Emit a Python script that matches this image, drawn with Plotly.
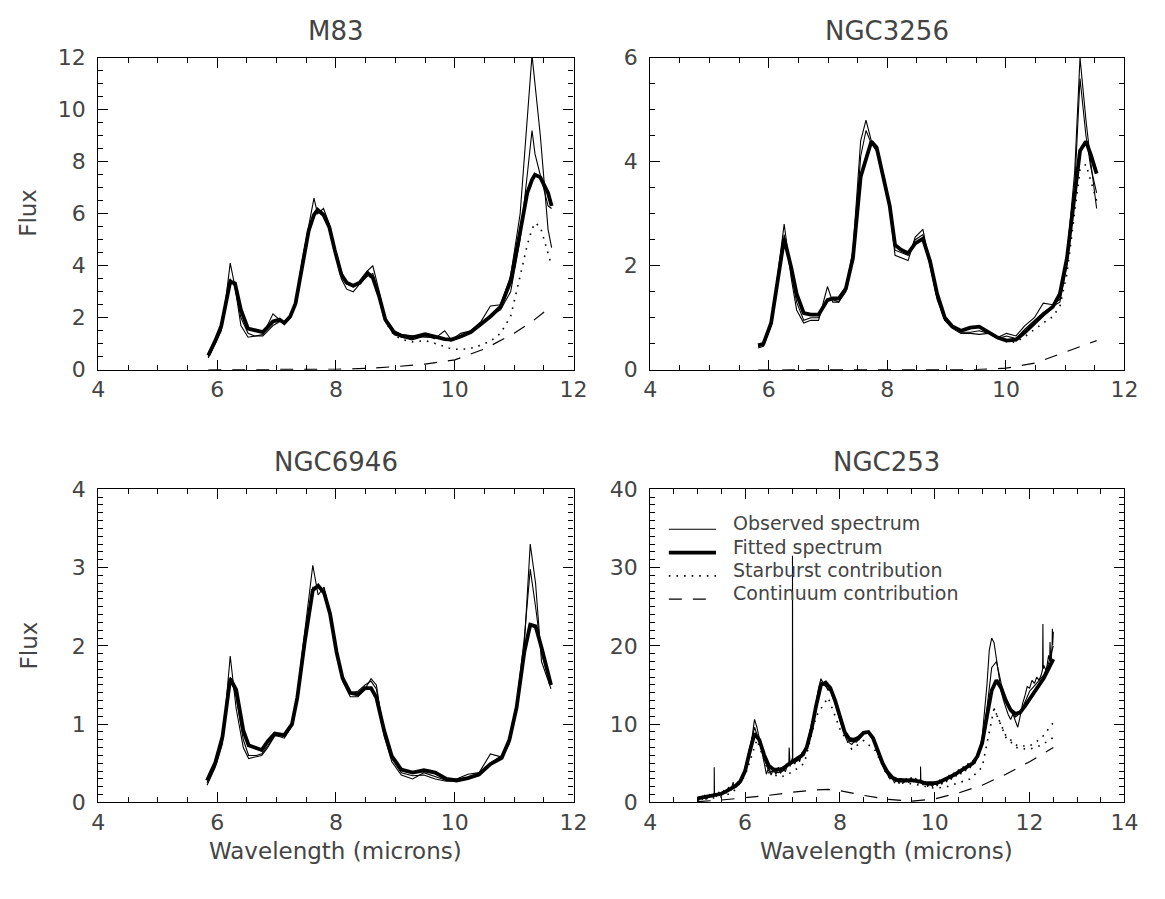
import numpy as np
import plotly.graph_objects as go

# ---------------- M83 ----------------
m83_lam = [5.85, 5.97, 6.07, 6.15, 6.22, 6.30, 6.40, 6.52, 6.63, 6.77,
           6.94, 7.05, 7.13, 7.23, 7.32, 7.43, 7.54, 7.63, 7.69, 7.79,
           7.89, 7.98, 8.09, 8.18, 8.29, 8.40, 8.53, 8.62, 8.73, 8.83,
           8.98, 9.11, 9.28, 9.50, 9.66, 9.83, 9.94, 10.10, 10.27, 10.44,
           10.60, 10.77, 10.94, 11.10, 11.22, 11.30, 11.35, 11.44, 11.57, 11.63]
m83_fit = [0.55, 1.12, 1.68, 2.6, 3.39, 3.32, 2.30, 1.58, 1.53, 1.45,
           1.86, 1.93, 1.80, 2.05, 2.55, 4.04, 5.34, 5.96, 6.15, 5.96,
           5.47, 4.60, 3.66, 3.35, 3.23, 3.35, 3.73, 3.54, 2.80, 1.93,
           1.43, 1.30, 1.24, 1.37, 1.28, 1.18, 1.16, 1.28, 1.45, 1.74,
           2.05, 2.42, 3.4, 5.3, 6.8, 7.3, 7.5, 7.4, 6.8, 6.3]
m83_obs1 = [0.45, 1.0, 1.5, 2.8, 4.1, 3.2, 1.7, 1.25, 1.3, 1.35,
            2.15, 1.9, 1.75, 2.1, 2.6, 4.2, 5.6, 6.6, 6.0, 6.2,
            5.6, 4.6, 3.5, 3.1, 3.0, 3.3, 3.8, 4.0, 3.0, 1.85,
            1.35, 1.25, 1.15, 1.3, 1.2, 1.5, 1.15, 1.4, 1.5, 1.85,
            2.45, 2.5, 3.6, 6.0, 9.5, 12.1, 11.0, 9.0, 5.4, 4.7]
m83_obs2 = [0.5, 1.05, 1.6, 2.5, 3.5, 3.2, 2.0, 1.4, 1.3, 1.3,
            1.7, 1.85, 1.85, 2.0, 2.5, 3.9, 5.2, 6.0, 6.1, 5.9,
            5.5, 4.7, 3.8, 3.3, 3.2, 3.3, 3.6, 3.7, 2.9, 2.0,
            1.5, 1.35, 1.3, 1.25, 1.25, 1.2, 1.1, 1.25, 1.45, 1.7,
            2.1, 2.3, 3.0, 5.0, 7.5, 9.2, 8.3, 7.5, 6.3, 6.2]
m83_star = [0.55, 1.12, 1.68, 2.6, 3.39, 3.32, 2.30, 1.58, 1.53, 1.45,
            1.86, 1.93, 1.80, 2.05, 2.55, 4.04, 5.34, 5.96, 6.15, 5.96,
            5.47, 4.58, 3.63, 3.32, 3.19, 3.30, 3.67, 3.47, 2.72, 1.84,
            1.32, 1.17, 1.07, 1.12, 1.02, 0.88, 0.80, 0.78, 0.82, 0.95,
            1.10, 1.40, 2.05, 3.6, 4.8, 5.4, 5.65, 5.5, 4.5, 4.0]
m83_cont_lam = [5.85, 7.0, 8.0, 8.5, 9.0, 9.5, 10.0, 10.5, 11.0, 11.3, 11.63]
m83_cont = [0.0, 0.0, 0.02, 0.05, 0.12, 0.22, 0.38, 0.8, 1.4, 1.85, 2.45]

# ---------------- NGC3256 ----------------
n3256_lam = [5.82, 5.91, 6.04, 6.16, 6.26, 6.38, 6.47, 6.59, 6.71, 6.84,
             6.99, 7.08, 7.18, 7.30, 7.42, 7.55, 7.64, 7.73, 7.82, 7.95,
             8.04, 8.13, 8.23, 8.35, 8.47, 8.60, 8.72, 8.84, 8.97, 9.09,
             9.24, 9.40, 9.55, 9.71, 9.86, 10.01, 10.17, 10.32, 10.48, 10.63,
             10.79, 10.91, 11.03, 11.16, 11.25, 11.35, 11.43, 11.53]
n3256_fit = [0.47, 0.50, 0.90, 1.78, 2.52, 1.96, 1.46, 1.09, 1.06, 1.06,
             1.34, 1.37, 1.37, 1.56, 2.15, 3.71, 4.08, 4.39, 4.27, 3.64,
             3.15, 2.40, 2.31, 2.24, 2.43, 2.52, 2.09, 1.46, 1.00, 0.84,
             0.75, 0.81, 0.83, 0.72, 0.62, 0.56, 0.58, 0.72, 0.90, 1.06,
             1.21, 1.46, 2.15, 3.40, 4.21, 4.39, 4.14, 3.77]
n3256_obs1 = [0.42, 0.45, 0.85, 1.9, 2.8, 1.75, 1.15, 0.9, 0.95, 0.95,
              1.6, 1.3, 1.3, 1.55, 2.3, 4.4, 4.8, 4.4, 4.3, 3.6,
              3.1, 2.2, 2.15, 2.1, 2.55, 2.7, 2.0, 1.35, 0.95, 0.8,
              0.7, 0.7, 0.68, 0.7, 0.62, 0.7, 0.65, 0.85, 1.0, 1.28,
              1.25, 1.35, 2.2, 3.8, 6.0, 4.8, 4.0, 3.1]
n3256_obs2 = [0.45, 0.48, 0.85, 1.8, 2.6, 1.85, 1.3, 0.95, 1.0, 1.0,
              1.35, 1.35, 1.3, 1.5, 2.1, 4.1, 4.6, 4.35, 4.2, 3.7,
              3.1, 2.3, 2.25, 2.2, 2.5, 2.6, 2.1, 1.4, 0.95, 0.82,
              0.72, 0.72, 0.75, 0.7, 0.6, 0.65, 0.6, 0.78, 0.95, 1.1,
              1.22, 1.3, 2.0, 3.5, 5.6, 4.5, 3.9, 3.4]
n3256_star = [0.47, 0.50, 0.90, 1.78, 2.52, 1.96, 1.46, 1.09, 1.06, 1.06,
              1.34, 1.37, 1.37, 1.56, 2.15, 3.71, 4.08, 4.39, 4.27, 3.64,
              3.15, 2.40, 2.31, 2.24, 2.43, 2.52, 2.09, 1.46, 1.00, 0.84,
              0.75, 0.81, 0.83, 0.72, 0.62, 0.54, 0.53, 0.64, 0.78, 0.90,
              1.02, 1.22, 1.85, 3.05, 3.85, 3.95, 3.65, 3.25]
n3256_cont_lam = [5.82, 9.0, 9.5, 10.0, 10.5, 11.0, 11.53]
n3256_cont = [0.0, 0.0, 0.005, 0.03, 0.13, 0.34, 0.56]

# ---------------- NGC6946 ----------------
n6946_lam = [5.83, 5.97, 6.09, 6.22, 6.32, 6.44, 6.53, 6.66, 6.75, 6.85,
             6.97, 7.13, 7.26, 7.35, 7.48, 7.61, 7.70, 7.80, 7.90, 8.01,
             8.11, 8.24, 8.37, 8.49, 8.59, 8.68, 8.81, 8.94, 9.10, 9.29,
             9.48, 9.67, 9.86, 10.03, 10.22, 10.41, 10.60, 10.79, 10.92, 11.04,
             11.17, 11.27, 11.36, 11.46, 11.62]
n6946_fit = [0.28, 0.51, 0.84, 1.58, 1.44, 0.92, 0.73, 0.69, 0.67, 0.78,
             0.88, 0.86, 1.00, 1.34, 2.08, 2.71, 2.77, 2.68, 2.41, 1.92,
             1.59, 1.40, 1.38, 1.46, 1.46, 1.34, 0.92, 0.59, 0.42, 0.38,
             0.41, 0.38, 0.30, 0.28, 0.31, 0.36, 0.49, 0.57, 0.80, 1.21,
             1.92, 2.27, 2.25, 1.98, 1.50]
n6946_obs1 = [0.22, 0.45, 0.75, 1.87, 1.2, 0.7, 0.56, 0.58, 0.6, 0.7,
              0.85, 0.85, 1.0, 1.4, 2.2, 3.03, 2.65, 2.75, 2.4, 1.9,
              1.55, 1.35, 1.35, 1.45, 1.58, 1.5, 0.85, 0.52, 0.35, 0.3,
              0.38, 0.33, 0.28, 0.3, 0.36, 0.38, 0.62, 0.58, 0.75, 1.2,
              2.0, 3.3, 2.8, 1.8, 1.45]
n6946_obs2 = [0.25, 0.48, 0.8, 1.6, 1.35, 0.8, 0.6, 0.6, 0.62, 0.72,
              0.86, 0.82, 0.98, 1.38, 2.15, 2.75, 2.75, 2.7, 2.4, 1.95,
              1.6, 1.4, 1.42, 1.5, 1.55, 1.45, 0.9, 0.56, 0.38, 0.34,
              0.35, 0.3, 0.27, 0.27, 0.3, 0.34, 0.5, 0.6, 0.8, 1.25,
              2.1, 2.98, 2.5, 1.9, 1.5]

# ---------------- NGC253 ----------------
n253_lam = [5.0, 5.1, 5.2, 5.3, 5.4, 5.5, 5.6, 5.7, 5.8, 5.9,
            6.0, 6.1, 6.2, 6.3, 6.4, 6.5, 6.6, 6.7, 6.8, 6.9,
            7.0, 7.1, 7.2, 7.3, 7.4, 7.5, 7.6, 7.7, 7.8, 7.9,
            8.0, 8.1, 8.2, 8.3, 8.4, 8.5, 8.6, 8.7, 8.8, 8.9,
            9.0, 9.1, 9.2, 9.3, 9.4, 9.5, 9.6, 9.7, 9.8, 9.9,
            10.0, 10.1, 10.2, 10.3, 10.4, 10.5, 10.6, 10.7, 10.8, 10.9,
            11.0, 11.1, 11.2, 11.3, 11.4, 11.5, 11.6, 11.7, 11.8, 11.9,
            12.0, 12.1, 12.2, 12.3, 12.4, 12.5]
n253_fit = [0.5, 0.6, 0.7, 0.8, 0.9, 1.1, 1.4, 1.7, 2.1, 2.7,
            4.0, 6.5, 8.8, 8.0, 6.1, 4.7, 4.2, 4.2, 4.3, 4.8,
            5.2, 5.5, 6.0, 7.0, 9.3, 12.4, 15.0, 15.3, 14.6, 13.0,
            10.8, 9.0, 8.1, 8.0, 8.3, 8.9, 9.0, 8.2, 6.6, 5.0,
            3.9, 3.2, 2.9, 2.8, 2.8, 2.85, 2.8, 2.65, 2.45, 2.4,
            2.45, 2.6, 2.85, 3.2, 3.5, 3.85, 4.2, 4.6, 5.0, 5.9,
            7.6, 11.0, 14.3, 15.6, 14.6, 13.0, 11.8, 11.3, 11.5, 12.3,
            13.2, 14.0, 14.9, 15.9, 17.1, 18.3]
n253_obs_b = [0.4, 0.8, 0.6, 1.0, 0.9, 1.2, 1.3, 1.9, 2.0, 2.9,
              4.3, 6.9, 9.6, 7.8, 5.6, 4.0, 3.9, 3.8, 4.0, 4.7,
              5.0, 5.3, 5.8, 7.1, 9.4, 12.6, 15.4, 14.8, 14.2, 12.6,
              10.5, 8.8, 7.8, 7.7, 8.0, 8.7, 8.9, 8.0, 6.4, 4.8,
              3.7, 3.0, 2.7, 2.6, 2.7, 2.9, 2.7, 2.5, 2.3, 2.2,
              2.3, 2.5, 2.8, 3.1, 3.4, 3.8, 4.2, 4.5, 5.0, 5.8,
              7.8, 12.0, 17.2, 18.0, 15.2, 13.0, 11.6, 10.9, 11.4, 12.9,
              14.2, 14.9, 15.6, 16.3, 17.8, 20.0]

# finely sampled observed spectrum, 5.00 to 12.50 micron in 0.05 steps
n253_fine_lam = np.linspace(5.0, 12.5, 151)
n253_obs_a = [0.2, 0.7, 0.4, 0.9, 0.5, 1.0, 0.7, 1.2, 0.8, 1.3,
              0.9, 1.5, 1.2, 1.9, 1.5, 2.3, 1.9, 2.6, 2.5, 3.4,
              4.2, 5.0, 6.8, 8.4, 10.6, 9.6, 8.2, 6.6, 5.4, 3.6,
              4.5, 3.5, 4.4, 3.6, 4.5, 3.7, 4.6, 3.9, 5.0, 4.6,
              5.6, 4.9, 5.8, 5.2, 6.3, 6.0, 7.3, 8.2, 9.6, 11.2,
              12.8, 14.6, 15.8, 15.2, 15.0, 14.3, 14.9, 13.6, 12.8, 11.6,
              10.5, 9.5, 8.6, 7.9, 7.6, 7.4, 7.8, 7.7, 8.1, 8.4,
              8.8, 9.1, 8.8, 8.5, 7.9, 7.0, 6.2, 5.4, 4.7, 4.0,
              3.6, 3.0, 3.1, 2.5, 2.9, 2.4, 3.0, 2.5, 3.1, 2.5,
              3.2, 2.6, 3.1, 2.4, 2.9, 2.2, 2.7, 2.0, 2.6, 2.0,
              2.7, 2.1, 2.9, 2.3, 3.1, 2.6, 3.5, 2.9, 3.8, 3.3,
              4.2, 3.6, 4.6, 4.0, 5.0, 4.4, 5.3, 5.0, 6.0, 6.9,
              8.4, 11.5, 15.0, 19.5, 21.0, 20.4, 18.2, 16.0, 14.2, 13.0,
              12.0, 11.2, 10.6, 11.3, 10.4, 9.6, 11.0, 12.6, 13.6, 14.8,
              14.6, 15.6, 15.2, 16.0, 15.6, 16.4, 17.5, 16.8, 18.8, 17.6,
              21.8]
# narrow emission lines in the observed spectrum
n253_line_lam = [5.35, 5.75, 6.93, 7.00, 9.70, 12.28, 12.43, 12.48]
n253_line_peak = [4.5, 2.6, 7.0, 31.5, 4.6, 22.8, 20.5, 22.2]

n253_star_lam = [5.00, 5.25, 5.50, 5.75, 6.00, 6.25, 6.50, 6.75, 7.00, 7.25,
                 7.50, 7.75, 8.00, 8.25, 8.50, 8.75, 9.00, 9.25, 9.50, 9.75,
                 10.00, 10.25, 10.50, 10.75, 11.00, 11.25, 11.50, 11.75, 12.00,
                 12.25, 12.50]
n253_star = [0.3, 0.5, 0.7, 1.3, 3.4, 8.0, 3.8, 3.2, 3.9, 5.0,
             11.0, 13.4, 9.4, 6.8, 7.9, 6.6, 3.4, 2.5, 2.4, 2.1,
             1.8, 2.0, 2.5, 3.0, 4.5, 12.0, 8.5, 7.2, 7.2, 8.2, 10.2]
# second starburst curve, diverging from the first beyond 11.5 micron
n253_star2_lam = [11.25, 11.50, 11.75, 12.00, 12.25, 12.50]
n253_star2 = [12.0, 8.3, 6.9, 6.8, 7.3, 8.3]
n253_cont_lam = [5.0, 5.5, 6.0, 6.5, 7.0, 7.5, 7.75, 8.0, 8.5, 9.0,
                 9.5, 10.0, 10.5, 11.0, 11.5, 12.0, 12.5]
n253_cont = [0.1, 0.3, 0.6, 0.9, 1.3, 1.6, 1.65, 1.5, 0.9, 0.4,
             0.15, 0.45, 1.2, 2.2, 3.6, 5.2, 7.0]

legend_labels = ["Observed spectrum", "Fitted spectrum",
                 "Starburst contribution", "Continuum contribution"]

# merge the narrow lines into the fine observed spectrum
obs_x = list(n253_fine_lam)
obs_y = list(n253_obs_a)
for lam, peak in zip(n253_line_lam, n253_line_peak):
    base = float(np.interp(lam, n253_fine_lam, n253_obs_a))
    obs_x += [lam - 0.006, lam, lam + 0.006]
    obs_y += [base, peak, base]
order = np.argsort(obs_x, kind="stable")
obs_x = np.array(obs_x)[order]
obs_y = np.array(obs_y)[order]

FONT = "DejaVu Sans"
TXT = "#444444"
THIN = dict(color="black", width=1.1)
THICK = dict(color="black", width=3.8)
DOT = dict(color="black", width=1.6, dash="1.6px,6px")
DASH = dict(color="black", width=1.2, dash="13px,11px")

fig = go.Figure()


def add(x, y, line, ax):
    fig.add_trace(go.Scatter(x=x, y=y, mode="lines", line=line,
                             xaxis="x" + ax, yaxis="y" + ax,
                             showlegend=False, hoverinfo="skip"))


# M83
add(m83_lam, m83_obs1, THIN, "")
add(m83_lam, m83_obs2, THIN, "")
add(m83_lam, m83_fit, THICK, "")
add(m83_lam, m83_star, DOT, "")
add(m83_cont_lam, m83_cont, DASH, "")
# NGC3256
add(n3256_lam, n3256_obs1, THIN, "2")
add(n3256_lam, n3256_obs2, THIN, "2")
add(n3256_lam, n3256_fit, THICK, "2")
add(n3256_lam, n3256_star, DOT, "2")
add(n3256_cont_lam, n3256_cont, DASH, "2")
# NGC6946
add(n6946_lam, n6946_obs1, THIN, "3")
add(n6946_lam, n6946_obs2, THIN, "3")
add(n6946_lam, n6946_fit, THICK, "3")
# NGC253
add(obs_x, obs_y, THIN, "4")
add(n253_lam, n253_obs_b, THIN, "4")
add(n253_lam, n253_fit, THICK, "4")
add(n253_star_lam, n253_star, DOT, "4")
add(n253_star2_lam, n253_star2, DOT, "4")
add(n253_cont_lam, n253_cont, DASH, "4")

W, H = 1165, 899
LEFT = [93 / W, 577 / W]
RIGHT = [655 / W, 1138 / W]
TOP = [1 - 368 / H, 1 - 47 / H]
BOT = [1 - 813 / H, 1 - 491 / H]


def xax(dom, anchor, rng):
    return dict(domain=dom, anchor=anchor, range=rng, tick0=0, dtick=2,
                ticks="inside", ticklen=10, tickwidth=1.1, tickcolor="black",
                minor=dict(dtick=0.5, ticks="inside", ticklen=5,
                           tickwidth=1.1, tickcolor="black"),
                showline=True, linecolor="black", linewidth=1.3,
                mirror="ticks", showgrid=False, zeroline=False,
                ticklabelstandoff=0,
                tickfont=dict(family=FONT, size=22, color=TXT))


def yax(dom, anchor, rng, dtick, minor):
    return dict(domain=dom, anchor=anchor, range=rng, tick0=0, dtick=dtick,
                ticks="inside", ticklen=10, tickwidth=1.1, tickcolor="black",
                minor=dict(dtick=minor, ticks="inside", ticklen=5,
                           tickwidth=1.1, tickcolor="black"),
                showline=True, linecolor="black", linewidth=1.3,
                mirror="ticks", showgrid=False, zeroline=False,
                ticklabelstandoff=7,
                tickfont=dict(family=FONT, size=22, color=TXT))


fig.update_layout(
    width=W, height=H,
    margin=dict(l=0, r=0, t=0, b=0),
    paper_bgcolor="white", plot_bgcolor="white",
    xaxis=xax(LEFT, "y", [4, 12]),
    yaxis=yax(TOP, "x", [0, 12], 2, 0.5),
    xaxis2=xax(RIGHT, "y2", [4, 12]),
    yaxis2=yax(TOP, "x2", [0, 6], 2, 0.5),
    xaxis3=xax(LEFT, "y3", [4, 12]),
    yaxis3=yax(BOT, "x3", [0, 4], 1, 0.1),
    xaxis4=xax(RIGHT, "y4", [4, 14]),
    yaxis4=yax(BOT, "x4", [0, 40], 10, 1),
    showlegend=False,
)

anns = []
titles = [("M83", 335, 20), ("NGC3256", 896, 20),
          ("NGC6946", 335, 463), ("NGC253", 896, 463)]
for txt, px, py in titles:
    anns.append(dict(text=txt, x=px / W, y=1 - py / H, xref="paper",
                     yref="paper", showarrow=False, xanchor="center",
                     yanchor="middle",
                     font=dict(family=FONT, size=26, color=TXT)))
for py in (207, 652):
    anns.append(dict(text="Flux", x=22 / W, y=1 - py / H, xref="paper",
                     yref="paper", showarrow=False, textangle=-90,
                     xanchor="center", yanchor="middle",
                     font=dict(family=FONT, size=23, color=TXT)))
for px in (335, 896):
    anns.append(dict(text="Wavelength (microns)", x=px / W, y=1 - 863 / H,
                     xref="paper", yref="paper", showarrow=False,
                     xanchor="center", yanchor="middle",
                     font=dict(family=FONT, size=23, color=TXT)))

# legend block inside the NGC253 panel
shapes = []
styles = [THIN, THICK, DOT, DASH]
rows = [526, 550, 574, 598]
for label, st, ry in zip(legend_labels, styles, rows):
    anns.append(dict(text=label, x=737 / W, y=1 - ry / H, xref="paper",
                     yref="paper", showarrow=False, xanchor="left",
                     yanchor="middle",
                     font=dict(family=FONT, size=19, color=TXT)))
    shapes.append(dict(type="line", xref="paper", yref="paper",
                       x0=674 / W, x1=722 / W,
                       y0=1 - (ry + 6) / H, y1=1 - (ry + 6) / H,
                       line=st))

fig.update_layout(annotations=anns, shapes=shapes)
fig.write_html("out.html")
